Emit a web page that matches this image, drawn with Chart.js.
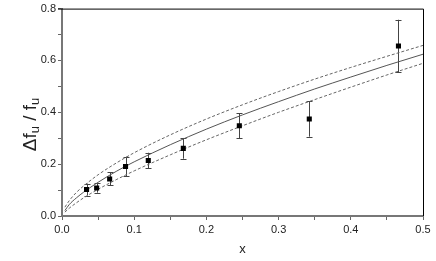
<!DOCTYPE html>
<html>
<head>
<meta charset="utf-8">
<script src="https://cdn.jsdelivr.net/npm/chart.js@4/dist/chart.umd.min.js"></script>
<style>
  html, body { margin: 0; padding: 0; background: #fff; }
  #wrap { width: 436px; height: 261px; }
</style>
</head>
<body>
<div id="wrap"><canvas id="c" width="436" height="261"></canvas></div>
<script>
// measured points with error bars
const pointX = [0.034, 0.048, 0.066, 0.088, 0.1195, 0.168, 0.2456, 0.3425, 0.466];
const pointY = [0.102, 0.108, 0.143, 0.191, 0.214, 0.261, 0.348, 0.374, 0.656];
const pointErr = [0.023, 0.018, 0.025, 0.038, 0.030, 0.040, 0.048, 0.068, 0.101];

// fit curve and its bounds
const curveX = [0.004, 0.01, 0.02, 0.03, 0.05, 0.075, 0.1, 0.15, 0.2, 0.25, 0.3, 0.35, 0.4, 0.45, 0.5];
const fitY = [0.021, 0.044, 0.070, 0.092, 0.130, 0.172, 0.209, 0.275, 0.335, 0.390, 0.441, 0.490, 0.536, 0.581, 0.624];
const upperY = [0.034, 0.059, 0.091, 0.116, 0.159, 0.204, 0.244, 0.313, 0.374, 0.429, 0.480, 0.528, 0.573, 0.616, 0.658];
const lowerY = [0.015, 0.030, 0.051, 0.070, 0.103, 0.140, 0.174, 0.236, 0.294, 0.348, 0.400, 0.449, 0.497, 0.544, 0.589];

// tick labels
const xTickLabels = ['0.0', '0.1', '0.2', '0.3', '0.4', '0.5'];
const yTickLabels = ['0.0', '0.2', '0.4', '0.6', '0.8'];

const FONT = '"Liberation Sans", Arial, sans-serif';

function toXY(xs, ys) {
    return xs.map((x, i) => ({ x: x, y: ys[i] }));
}

// error bars under the markers
const errorBars = {
    id: 'errorBars',
    beforeDatasetsDraw(chart) {
        const ctx = chart.ctx;
        const xs = chart.scales.x, ys = chart.scales.y;
        ctx.save();
        ctx.strokeStyle = '#444';
        ctx.lineWidth = 1;
        pointX.forEach((x, i) => {
            const px = Math.round(xs.getPixelForValue(x)) + 0.5;
            const top = ys.getPixelForValue(pointY[i] + pointErr[i]);
            const bot = ys.getPixelForValue(pointY[i] - pointErr[i]);
            ctx.beginPath();
            ctx.moveTo(px, top); ctx.lineTo(px, bot);
            ctx.moveTo(px - 3, Math.round(top) + 0.5); ctx.lineTo(px + 3, Math.round(top) + 0.5);
            ctx.moveTo(px - 3, Math.round(bot) + 0.5); ctx.lineTo(px + 3, Math.round(bot) + 0.5);
            ctx.stroke();
        });
        ctx.restore();
    }
};

// top/right frame and axis titles
const frameAndTitles = {
    id: 'frameAndTitles',
    afterDraw(chart) {
        const ctx = chart.ctx;
        const a = chart.chartArea;
        ctx.save();
        ctx.strokeStyle = '#000';
        ctx.lineWidth = 1;
        ctx.beginPath();
        ctx.moveTo(a.left - 4, a.top + 0.5);
        ctx.lineTo(a.right + 0.5, a.top + 0.5);
        ctx.lineTo(a.right + 0.5, a.bottom);
        ctx.stroke();

        ctx.fillStyle = '#222';
        // x title
        ctx.font = '13px ' + FONT;
        ctx.textAlign = 'center';
        ctx.textBaseline = 'alphabetic';
        ctx.fillText('x', (a.left + a.right) / 2, 253);

        // y title: Δf_u / f_u
        const parts = [
            { t: 'Δf', sub: false },
            { t: 'u', sub: true },
            { t: ' / f', sub: false },
            { t: 'u', sub: true }
        ];
        const big = '19px ' + FONT, small = '13px ' + FONT;
        let total = 0;
        parts.forEach(p => {
            ctx.font = p.sub ? small : big;
            p.w = ctx.measureText(p.t).width;
            total += p.w;
        });
        ctx.translate(36, 124.5 + total / 2);
        ctx.rotate(-Math.PI / 2);
        ctx.textAlign = 'left';
        let pos = 0;
        parts.forEach(p => {
            ctx.font = p.sub ? small : big;
            ctx.fillText(p.t, pos, p.sub ? 3 : 0);
            pos += p.w;
        });
        ctx.restore();
    }
};

function isMajor(v, step) {
    const n = Math.round(v * 100);
    return n % Math.round(step * 100) === 0;
}

new Chart(document.getElementById('c'), {
    type: 'scatter',
    data: {
        datasets: [
            {
                label: 'data',
                data: toXY(pointX, pointY),
                pointStyle: 'rect',
                pointRadius: 3.6,
                backgroundColor: '#000',
                borderColor: '#000',
                borderWidth: 0
            },
            {
                label: 'fit',
                data: toXY(curveX, fitY),
                showLine: true,
                pointRadius: 0,
                borderColor: '#555',
                borderWidth: 1,
                cubicInterpolationMode: 'monotone'
            },
            {
                label: 'upper',
                data: toXY(curveX, upperY),
                showLine: true,
                pointRadius: 0,
                borderColor: '#666',
                borderWidth: 1,
                borderDash: [3, 2],
                cubicInterpolationMode: 'monotone'
            },
            {
                label: 'lower',
                data: toXY(curveX, lowerY),
                showLine: true,
                pointRadius: 0,
                borderColor: '#666',
                borderWidth: 1,
                borderDash: [3, 2],
                cubicInterpolationMode: 'monotone'
            }
        ]
    },
    options: {
        responsive: false,
        animation: false,
        devicePixelRatio: 1,
        layout: { padding: { top: 7, right: 13, left: 0, bottom: 0 } },
        plugins: {
            legend: { display: false },
            tooltip: { enabled: false }
        },
        scales: {
            x: {
                type: 'linear',
                min: 0,
                max: 0.5,
                afterFit(scale) { scale.height = 45; },
                border: { color: '#777', width: 2 },
                grid: { drawOnChartArea: false, drawTicks: true, tickLength: 4, tickColor: '#666' },
                ticks: {
                    stepSize: 0.05,
                    autoSkip: false,
                    maxRotation: 0,
                    padding: 3,
                    color: '#222',
                    font: { family: FONT, size: 11 },
                    callback: v => isMajor(v, 0.1) ? xTickLabels[Math.round(v * 10)] : ''
                }
            },
            y: {
                type: 'linear',
                min: 0,
                max: 0.8,
                afterFit(scale) { scale.width = 62; },
                border: { color: '#777', width: 2 },
                grid: { drawOnChartArea: false, drawTicks: true, tickLength: 4, tickColor: '#666' },
                ticks: {
                    stepSize: 0.1,
                    autoSkip: false,
                    padding: 2,
                    color: '#222',
                    font: { family: FONT, size: 11 },
                    callback: v => isMajor(v, 0.2) ? yTickLabels[Math.round(v * 5)] : ''
                }
            }
        }
    },
    plugins: [errorBars, frameAndTitles]
});
</script>
</body>
</html>
